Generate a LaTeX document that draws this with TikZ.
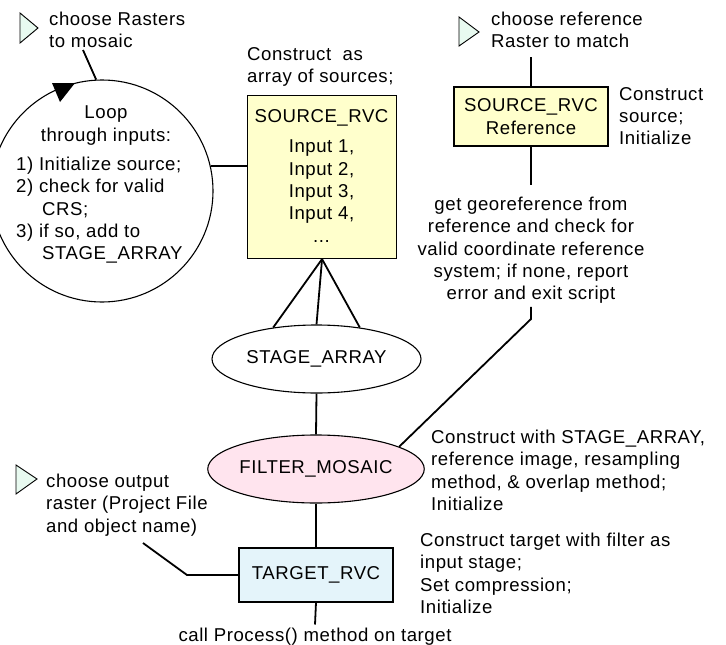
\documentclass[tikz,border=0pt]{standalone}
\usepackage{fontspec}
\setmainfont[LetterSpace=3]{Liberation Sans}
\usetikzlibrary{shapes.geometric}
\definecolor{boxyellow}{HTML}{FFFFCC}
\definecolor{boxpink}{HTML}{FFE4EE}
\definecolor{boxblue}{HTML}{E4F4FA}
\definecolor{trimint}{HTML}{E8FAF0}
\begin{document}
\begin{tikzpicture}[x=1pt,y=-1pt,
  every node/.style={font=\fontsize{18.6}{22.3}\selectfont},
  conn/.style={line width=1.8pt},
  outl/.style={draw, line width=1.1pt},
  lbl/.style={inner sep=0pt, align=left},
  tri/.style={draw, fill=trimint, line width=0.9pt, line join=miter},
  ellnode/.style={ellipse, outl, minimum width=209pt, minimum height=68pt, inner sep=0pt},
  boxnode/.style={rectangle, outl, inner sep=0pt}]
\useasboundingbox (0,0) rectangle (726,645);
\clip (0,0) rectangle (726,645);
\fill[white] (0,0) rectangle (726,645);

% input triangles
\draw[tri] (20,13) -- (20,43) -- (38,28) -- cycle;
\draw[tri] (459,17) -- (459,46) -- (479,32) -- cycle;
\draw[tri] (16,465) -- (16,494) -- (37,479) -- cycle;

% labels
\node[lbl, anchor=north west] (lblA) at (49,12) {choose Rasters\\to mosaic};
\node[lbl, anchor=north west] (lblB) at (247,47) {Construct~ as\\array of sources;};
\node[lbl, anchor=north west] (lblC) at (491,12) {choose reference\\Raster to match};
\node[lbl, anchor=north west] (lblD) at (619,87) {Construct\\source;\\Initialize};
\node[lbl, anchor=north west] (lblE) at (431,430) {Construct with STAGE\_ARRAY,\\reference image, resampling\\method, \& overlap method;\\Initialize};
\node[lbl, anchor=north west] (lblF) at (420,533) {Construct target with filter as\\input stage;\\Set compression;\\Initialize};
\node[lbl, anchor=north west] (lblG) at (46,474) {choose output\\raster (Project File\\and object name)};

% loop circle
\node[circle, outl, minimum size=222pt, inner sep=0pt] (loop) at (102,191) {};
\fill (52,83) -- (75,83) -- (60,102) -- cycle;
\node[inner sep=0pt, align=center, anchor=north] (looptitle) at (106,106) {Loop\\through inputs:};
\node[lbl, anchor=north west] (looplist) at (16,157) {1) Initialize source;\\2) check for valid\\\hspace*{26pt}CRS;\\3) if so, add to\\\hspace*{26pt}STAGE\_ARRAY};

% source array box
\node[boxnode, fill=boxyellow, minimum width=149pt, minimum height=163pt, anchor=north west] (src) at (247,95) {};
\node[inner sep=0pt, align=center, anchor=north] (srctxt) at (321.5,109.5) {SOURCE\_RVC\\[8pt]Input 1,\\Input 2,\\Input 3,\\Input 4,\\...};

% reference box
\node[boxnode, fill=boxyellow, minimum width=154pt, minimum height=59pt, align=center] (ref) at (531,116.5) {SOURCE\_RVC\\Reference};
\node[inner sep=0pt, align=center, anchor=north] (georef) at (531,197) {get georeference from\\reference and check for\\valid coordinate reference\\system; if none, report\\error and exit script};

% ellipses
\node[ellnode, fill=white] (sa) at (316.5,359) {STAGE\_ARRAY};
\node[ellnode, fill=boxpink] (fm) at (316,469) {FILTER\_MOSAIC};

% target box
\node[boxnode, fill=boxblue, minimum width=154pt, minimum height=54pt] (tgt) at (316,575) {TARGET\_RVC};
\node[inner sep=3pt, anchor=north] (proc) at (315,624.5) {call Process() method on target};

% connector end points
\coordinate (l0) at (83,50);
\coordinate (r0) at (531,57);
\coordinate (g1) at (531,185);
\coordinate (gbend) at (531,319);
\coordinate (o0) at (143,543);
\coordinate (o1) at (187,575);

% connectors
\draw[conn] (l0) -- (loop.93);
\draw[conn] (loop.13.5) -- (loop.13.5 -| src.west);
\draw[conn] (src.south) -- (sa.144);
\draw[conn] (src.south) -- (sa.north);
\draw[conn] (src.south) -- (sa.36);
\draw[conn] (sa.south) -- (fm.north);
\draw[conn] (fm.south) -- (tgt.north);
\draw[conn] (tgt.south) -- (proc.north);
\draw[conn] (r0) -- (ref.north);
\draw[conn] (ref.south) -- (g1);
\draw[conn] ([yshift=-3pt]georef.south) -- (gbend) -- (fm.15);
\draw[conn] (o0) -- (o1) -- (tgt.west);
\end{tikzpicture}
\end{document}
